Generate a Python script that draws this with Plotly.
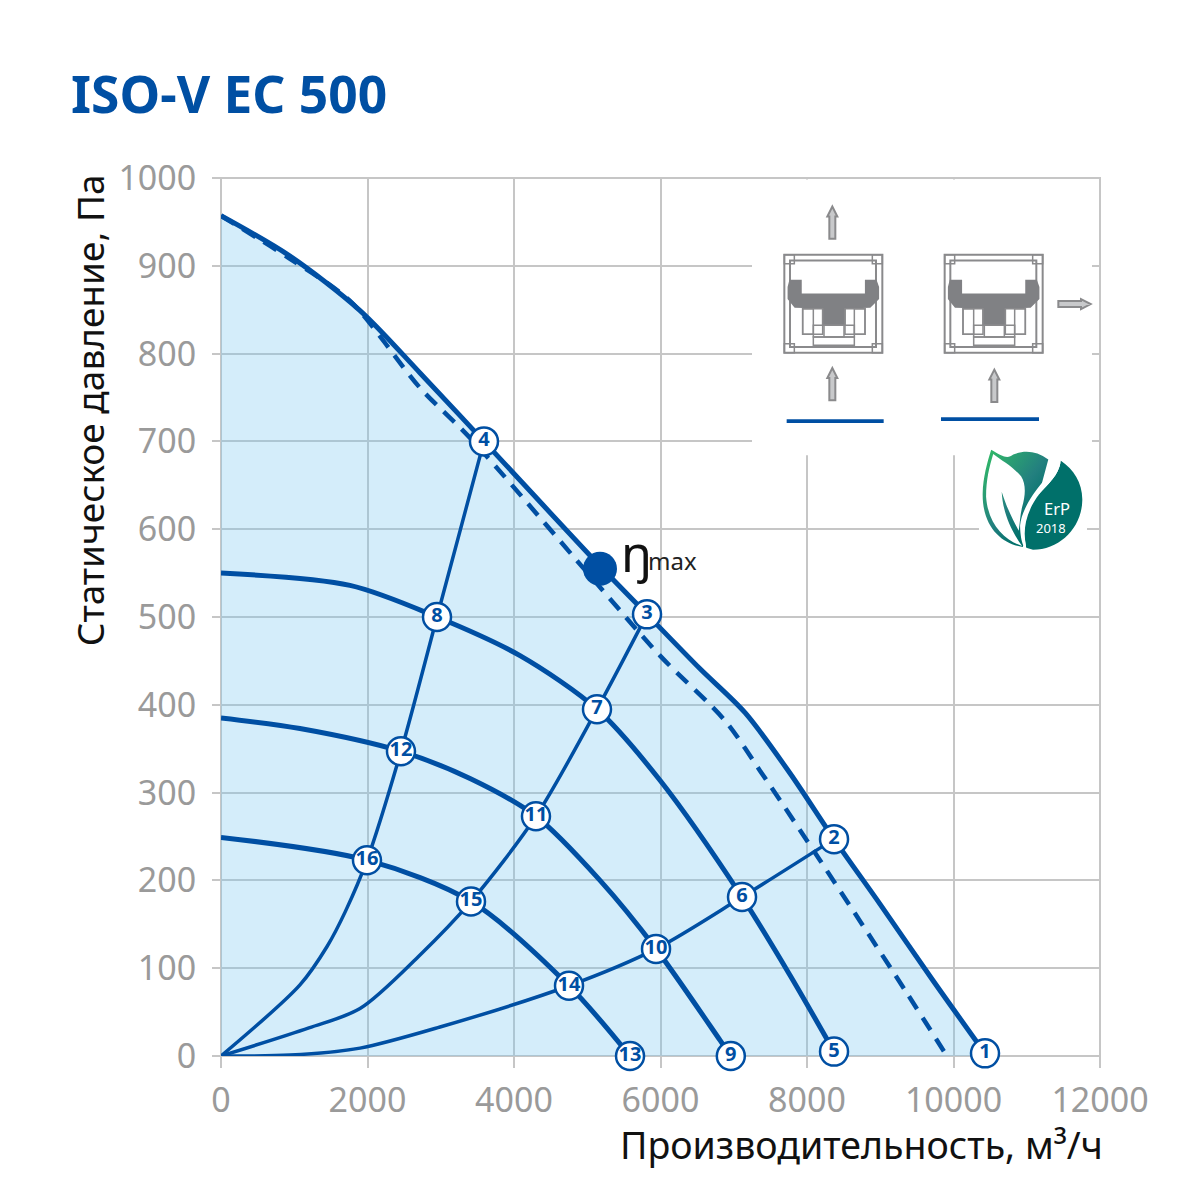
import base64
import plotly.graph_objects as go

TITLE = "ISO-V EC 500"
X_LABEL = "Производительность, м³/ч"
Y_LABEL = "Статическое давление, Па"
X_TICKS = [0, 2000, 4000, 6000, 8000, 10000, 12000]
Y_TICKS = [0, 100, 200, 300, 400, 500, 600, 700, 800, 900, 1000]

max_x = [0, 942, 1898, 2717, 3590, 5174, 5816, 6540, 7154, 7768, 8369, 8997, 9720, 10430]
max_y = [957, 911, 849, 778, 700, 558, 503, 441, 391, 322, 247, 173, 86, 3]
dash_x = [0, 942, 1761, 2717, 3400, 5038, 5993, 6880, 7358, 8177, 9338, 9925]
dash_y = [957, 908, 860, 761, 704, 547, 456, 382, 325, 223, 75, -2]
mid_x = [0, 1761, 2949, 4082, 5133, 5993, 7113, 7768, 8369]
mid_y = [550, 536, 500, 456, 395, 314, 181, 92, 5]
low_x = [0, 1078, 2457, 3400, 4300, 5174, 5939, 6812, 6960]
low_y = [385, 373, 347, 316, 273, 200, 122, 18, 0]
min_x = [0, 1993, 3413, 4751, 5584]
min_y = [249, 223, 176, 80, 0]
sys_a_x = [0, 1078, 1450, 1700, 1993, 2457, 2949, 3590]
sys_a_y = [0, 81, 125, 165, 223, 347, 500, 700]
sys_b_x = [0, 1200, 1898, 2717, 3413, 4300, 5133, 5816]
sys_b_y = [0, 32, 54, 115, 176, 273, 395, 503]
sys_c_x = [0, 942, 1898, 2990, 4751, 5939, 7113, 8369]
sys_c_y = [0, 1, 9, 33, 80, 122, 181, 247]

point_no = [str(i) for i in range(1, 17)]
point_x = [10430, 8369, 5816, 3590, 8369, 7113, 5133, 2949, 6960, 5939, 4300, 2457, 5584, 4751, 3413, 1993]
point_y = [3, 247, 503, 700, 5, 181, 395, 500, 0, 122, 273, 347, 0, 80, 176, 223]
eta_x = [5174]
eta_y = [555]

BLUE = "#004fa3"
GRID = "#c6c6c6"
TICK = "#9a9a9a"
FONT = "Noto Sans"
W, H = 1200, 1195
L, R, T, B = 221, 1100, 177.5, 1056.5
SMOOTH = 0.85


def px(x):
    return (x - L) / (R - L)


def py(y):
    return (B - y) / (B - T)


def dx(x):
    return px(x) * 12000


def dy(y):
    return py(y) * 1000


fig = go.Figure()
fig.add_trace(go.Scatter(x=max_x, y=max_y, mode="lines", fill="tozeroy",
                         fillcolor="rgba(120,200,240,0.32)",
                         line=dict(color=BLUE, width=5, shape="spline", smoothing=SMOOTH)))
fig.add_trace(go.Scatter(x=dash_x, y=dash_y, mode="lines",
                         line=dict(color=BLUE, width=4.5, dash="15px,10px", shape="spline", smoothing=SMOOTH)))
for xs, ys in [(mid_x, mid_y), (low_x, low_y), (min_x, min_y)]:
    fig.add_trace(go.Scatter(x=xs, y=ys, mode="lines",
                             line=dict(color=BLUE, width=5, shape="spline", smoothing=SMOOTH)))
for xs, ys in [(sys_a_x, sys_a_y), (sys_b_x, sys_b_y), (sys_c_x, sys_c_y)]:
    fig.add_trace(go.Scatter(x=xs, y=ys, mode="lines",
                             line=dict(color=BLUE, width=3.5, shape="spline", smoothing=SMOOTH)))
fig.add_trace(go.Scatter(x=eta_x, y=eta_y, mode="markers",
                         marker=dict(color=BLUE, size=34)))
fig.add_trace(go.Scatter(x=point_x, y=point_y, mode="markers+text", text=point_no,
                         textposition="middle center", cliponaxis=False,
                         textfont=dict(family=FONT, size=20, weight="bold", color=BLUE),
                         marker=dict(color="white", size=28, line=dict(color=BLUE, width=2.5))))

shapes = [
    # Plot frame: Plotly drops grid lines on the range edges
    dict(type="rect", xref="paper", yref="paper", layer="below",
         x0=0, x1=1, y0=0, y1=1, fillcolor="rgba(0,0,0,0)", line=dict(color=GRID, width=2)),
    dict(type="rect", xref="x", yref="y", layer="between",
         x0=dx(752), x1=dx(1092), y0=dy(179), y1=dy(455),
         fillcolor="white", line=dict(width=0)),
    dict(type="rect", xref="x", yref="y", layer="between",
         x0=dx(979), x1=dx(1087), y0=dy(450), y1=dy(552),
         fillcolor="white", line=dict(width=0)),
]


# Inset artwork, given in pixel coordinates of the page
def path(pts, fill="rgba(0,0,0,0)", stroke="#8a8a8c", width=1.5):
    d = "M " + " L ".join(f"{px(750 + a / 3):.5f},{py(190 + b / 3):.5f}" for a, b in pts) + " Z"
    return dict(type="path", xref="paper", yref="paper", path=d, fillcolor=fill,
                line=dict(color=stroke, width=width), layer="above")


def box(a0, b0, a1, b1, **kw):
    return path([(a0, b0), (a1, b0), (a1, b1), (a0, b1)], **kw)


def unit(o):
    out = [box(o + 103, 193, o + 397, 487, width=2), box(o + 120, 210, o + 378, 470, width=2)]
    for a, b in [(103, 193), (367, 193), (103, 460), (367, 460)]:
        out.append(box(o + a, b, o + a + 30, b + 27))
    out.append(path([(o + a, b) for a, b in [
        (120, 270), (153, 270), (153, 312), (347, 312), (347, 270), (378, 270), (385, 290),
        (385, 325), (360, 350), (285, 352), (285, 405), (218, 405), (218, 352), (135, 350),
        (115, 325), (115, 290)]], fill="#808184", stroke="#808184"))
    out += [box(o + 158, 355, o + 218, 432), box(o + 158, 355, o + 190, 432),
            box(o + 285, 355, o + 345, 432), box(o + 313, 355, o + 345, 432),
            box(o + 190, 405, o + 313, 440), box(o + 222, 405, o + 282, 440),
            box(o + 190, 440, o + 313, 465)]
    return out


def up_arrow(c, top, bottom):
    return path([(c - 9, bottom), (c - 9, top + 30), (c - 15, top + 30), (c, top),
                 (c + 15, top + 30), (c + 9, top + 30), (c + 9, bottom)],
                fill="#c8c9cb", stroke="#8a8a8c", width=2)


shapes += unit(0) + unit(481)
shapes += [up_arrow(247, 48, 145), up_arrow(247, 533, 630), up_arrow(733, 538, 635)]
shapes.append(path([(925, 332), (993, 332), (993, 326), (1022, 341), (993, 356), (993, 350), (925, 350)],
                   fill="#c8c9cb", stroke="#8a8a8c", width=2))
shapes.append(box(110, 687, 401, 698, fill=BLUE, stroke=BLUE, width=0))
shapes.append(box(573, 681, 867, 692, fill=BLUE, stroke=BLUE, width=0))

logo_svg = """<svg xmlns='http://www.w3.org/2000/svg' viewBox='0 0 300 300' width='300' height='300'>
<defs><linearGradient id='g' x1='0.15' y1='0.05' x2='0.75' y2='0.75'>
<stop offset='0' stop-color='#2fb36a'/><stop offset='0.6' stop-color='#23807f'/><stop offset='1' stop-color='#00706a'/></linearGradient></defs>
<path d='M27 2 C60 22 75 30 92 16 C125 2 160 5 195 30 L160 160 L120 288 C60 280 0 230 2 130 C3 85 15 40 27 2 Z' fill='url(#g)'/>
<path d='M232 34 C270 60 296 100 295 150 C294 230 230 296 150 296 L130 290 C120 240 125 190 170 130 C195 100 225 80 232 34 Z' fill='#00706a'/>
<path d='M33 14 C60 35 90 50 115 80 C130 105 128 135 118 170 C112 195 112 215 108 240 C95 215 75 180 58 125 C60 170 75 225 118 285 C70 270 18 225 12 140 C12 90 22 50 33 14 Z' fill='white'/>
<path d='M232 34 C225 80 195 100 170 130 C125 190 120 240 130 290 C118 292 112 250 112 225 C116 180 150 130 180 95 C205 70 225 60 232 34 Z' fill='white'/>
</svg>"""
logo_uri = "data:image/svg+xml;base64," + base64.b64encode(logo_svg.encode()).decode()

fig.update_layout(
    width=W, height=H,
    margin=dict(l=L, r=W - R, t=T, b=H - B, pad=0),
    paper_bgcolor="white", plot_bgcolor="white",
    showlegend=False,
    font=dict(family=FONT, color=TICK),
    shapes=shapes,
    images=[dict(source=logo_uri, xref="paper", yref="paper", x=px(982), y=py(449),
                 sizex=px(1084) - px(982), sizey=py(449) - py(551),
                 xanchor="left", yanchor="top", sizing="stretch", layer="above")],
    annotations=[
        dict(text=f"<b>{TITLE}</b>", xref="paper", yref="paper", x=px(69), y=py(92), xanchor="left",
             yanchor="middle", showarrow=False, font=dict(family=FONT, size=51.5, color=BLUE)),
        dict(text=X_LABEL, xref="paper", yref="paper", x=px(1105), y=py(1145), xanchor="right",
             yanchor="middle", showarrow=False, font=dict(family=FONT, size=37.5, color="#111111")),
        dict(text=Y_LABEL, xref="paper", yref="paper", x=px(89), y=py(410), xanchor="center",
             yanchor="middle", textangle=-90, showarrow=False,
             font=dict(family=FONT, size=37, color="#111111")),
        dict(text="ŋ", xref="paper", yref="paper", x=px(619), y=py(553), xanchor="left",
             yanchor="middle", showarrow=False, font=dict(family=FONT, size=50, color="#111111")),
        dict(text="max", xref="paper", yref="paper", x=px(646), y=py(560), xanchor="left",
             yanchor="middle", showarrow=False, font=dict(family=FONT, size=24, color="#222222")),
        dict(text="ErP", xref="paper", yref="paper", x=px(1057), y=py(508), xanchor="center",
             yanchor="middle", height=16, showarrow=False, font=dict(family=FONT, size=16.5, color="white")),
        dict(text="2018", xref="paper", yref="paper", x=px(1051), y=py(528), xanchor="center",
             yanchor="middle", height=14, showarrow=False, font=dict(family=FONT, size=13, color="white")),
    ],
)
fig.update_xaxes(range=[0, 12000], tickvals=X_TICKS, ticktext=[str(v) for v in X_TICKS],
                 showgrid=True, gridcolor=GRID, gridwidth=2, zeroline=False, showline=False,
                 ticks="outside", ticklen=11, tickcolor=GRID, tickwidth=2, ticklabelstandoff=3,
                 tickfont=dict(family=FONT, size=34, color=TICK))
fig.update_yaxes(range=[0, 1000], tickvals=Y_TICKS, ticktext=[str(v) for v in Y_TICKS],
                 showgrid=True, gridcolor=GRID, gridwidth=2, zeroline=False, showline=False,
                 ticks="outside", ticklen=8, tickcolor=GRID, tickwidth=2, ticklabelstandoff=9,
                 tickfont=dict(family=FONT, size=34, color=TICK))

fig.write_html("out.html", config=dict(displayModeBar=False),
               post_script="document.body.style.margin='0';")
